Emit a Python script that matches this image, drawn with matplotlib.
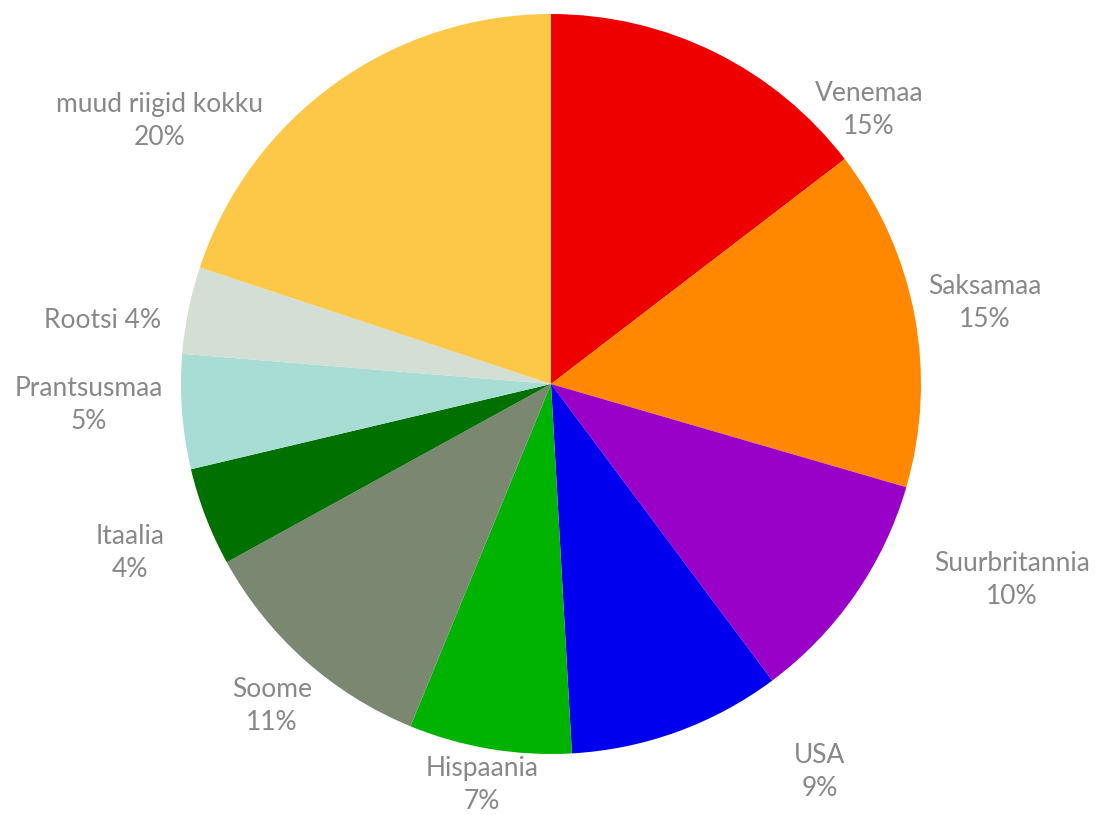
import matplotlib
matplotlib.use("Agg")
import matplotlib.pyplot as plt

categories = ["Venemaa", "Saksamaa", "Suurbritannia", "USA", "Hispaania",
              "Soome", "Itaalia", "Prantsusmaa", "Rootsi", "muud riigid kokku"]
values = [14.6, 14.9, 10.3, 9.3, 7.1, 10.8, 4.3, 5.0, 3.8, 19.9]
pct_labels = ["15%", "15%", "10%", "9%", "7%", "11%", "4%", "5%", "4%", "20%"]
colors = ["#EE0000", "#FF8800", "#9900C8", "#0000EE", "#00B300",
          "#7A8872", "#007000", "#A8DDD4", "#D3DED4", "#FDC848"]

W, H = 1095, 815
fig = plt.figure(figsize=(W / 100, H / 100), dpi=100)
ax = fig.add_axes([0, 0, 1, 1])

cx, cy, r = 551, H - 384, 370
ax.pie(values, colors=colors, startangle=90, counterclock=False,
       center=(cx, cy), radius=r, frame=True,
       wedgeprops=dict(linewidth=0))
ax.set_xlim(0, W)
ax.set_ylim(0, H)
ax.set_aspect("auto")
ax.axis("off")

# label positions (pixel coords, top-left origin)
label_pos = [(869, 110), (985, 303), (1012, 580), (820, 772), (482, 785),
             (272, 706), (130, 553), (89, 405), (103, 320), (160, 121)]
for name, pct, (lx, ly) in zip(categories, pct_labels, label_pos):
    if name == "Rootsi":
        txt = f"{name} {pct}"
    else:
        txt = f"{name}\n{pct}"
    ax.text(lx, H - ly, txt, ha="center", va="center", color="#888888",
            fontsize=19, family="Lato", linespacing=1.42)

fig.savefig("out.png", dpi=100)
